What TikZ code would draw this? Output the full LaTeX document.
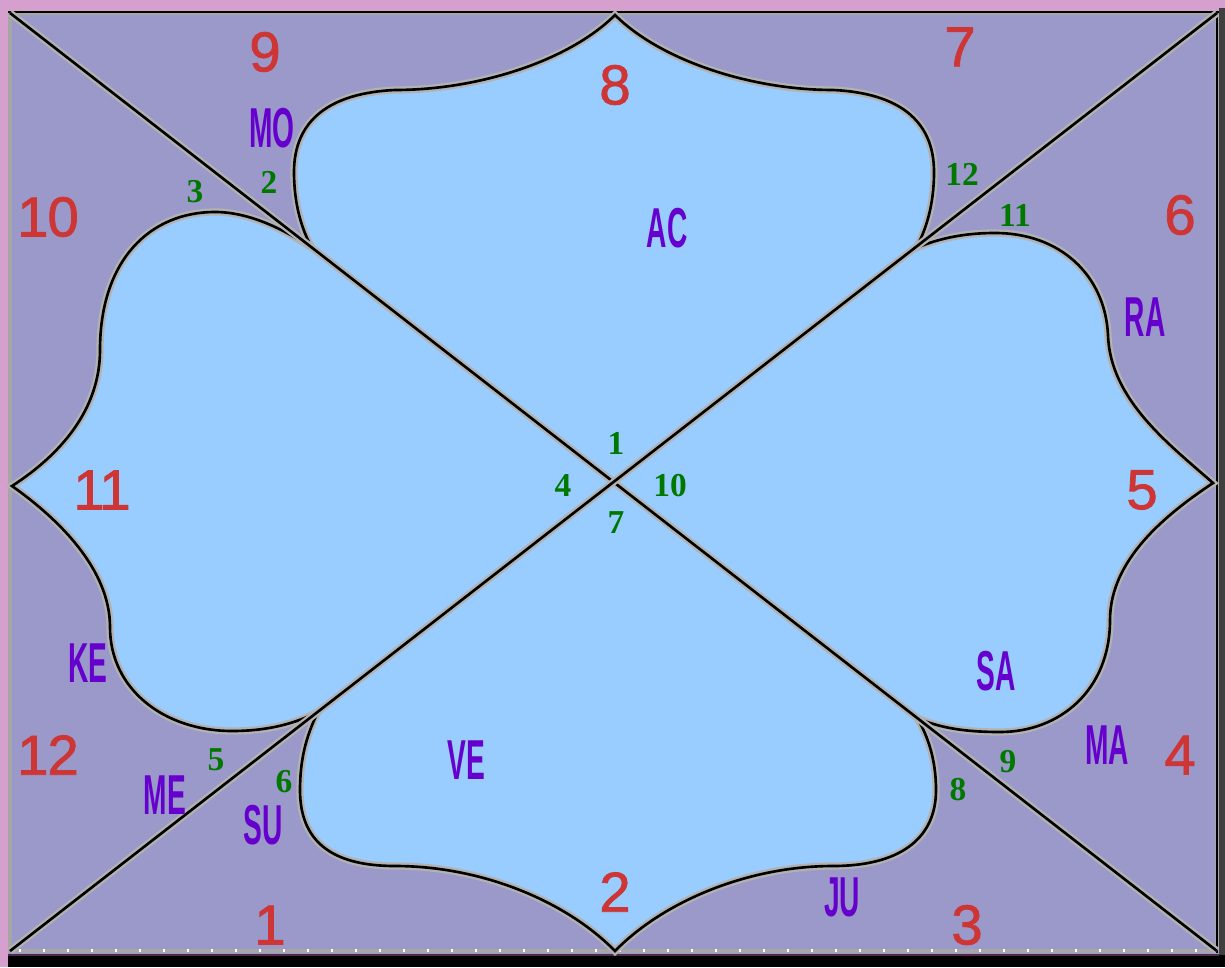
\documentclass[tikz,border=0pt]{standalone}
\usepackage{fontspec}
\usepackage{tikz}
\newfontfamily\housefont[LetterSpace=-2,FakeBold=1.4]{Liberation Sans}
\newfontfamily\planetfont[FakeStretch=0.5]{Liberation Sans}
\newfontfamily\degreefont{Liberation Serif}
\definecolor{pinkedge}{RGB}{214,160,206}
\definecolor{chartbg}{RGB}{154,153,202}
\definecolor{lobeblue}{RGB}{153,204,255}
\definecolor{housered}{RGB}{206,54,54}
\definecolor{planetviolet}{RGB}{102,0,204}
\definecolor{degreegreen}{RGB}{0,120,0}
\definecolor{rimpurple}{RGB}{80,40,80}

\begin{document}
\begin{tikzpicture}[x=0.01cm,y=-0.01cm,
  rim/.style={draw=gray!60,double=black,double distance=0.75pt,line width=0.65pt},
  house/.style={text=housered,inner sep=0pt,font=\housefont\fontsize{16}{16}\selectfont},
  planet/.style={text=planetviolet,inner sep=0pt,font=\planetfont\bfseries\fontsize{16}{16}\selectfont},
  degree/.style={text=degreegreen,inner sep=0pt,font=\degreefont\bfseries\fontsize{9.5}{10}\selectfont}]
\useasboundingbox (0,0) rectangle (1225,967);
% frame of the chart
\fill[pinkedge] (0,0) rectangle (1225,967);
\fill[black] (8,955) rectangle (1225,967);
\fill[black!75] (1219,8) rectangle (1225,955);
\fill[chartbg] (8,11) rectangle (1219,954);
\coordinate (tl) at (10,13); \coordinate (tr) at (1217,13);
\coordinate (bl) at (10,951); \coordinate (br) at (1217,951);
\draw[gray!70,line width=1.2pt] (tl) rectangle (br);
\draw[black,line width=0.5pt] (8,12) -- (1219,12);
\draw[black,line width=0.7pt] (1217,12) -- (1217,953);
\draw[rimpurple,line width=0.8pt] (8,955) -- (1219,955);
\foreach \t in {20,44,...,1210} \draw[white,line width=0.4pt] (\t,949) -- (\t,952);
% the four lobes
\path[fill=lobeblue,rim] (615,15)
  .. controls (660,60) and (750,90) .. (833,90)
  .. controls (898,93) and (934,120) .. (934,172)
  .. controls (934,205) and (926,230) .. (916,248)
  .. controls (940,238) and (965,233) .. (995,233)
  .. controls (1060,233) and (1105,275) .. (1108,335)
  .. controls (1110,400) and (1170,445) .. (1213,483)
  .. controls (1165,515) and (1110,560) .. (1110,620)
  .. controls (1110,690) and (1060,732) .. (1000,732)
  .. controls (965,732) and (940,728) .. (917,718)
  .. controls (928,736) and (936,760) .. (936,790)
  .. controls (936,840) and (898,866) .. (833,866)
  .. controls (750,866) and (665,900) .. (615,951)
  .. controls (565,900) and (480,866) .. (395,866)
  .. controls (330,866) and (300,840) .. (300,790)
  .. controls (300,760) and (306,736) .. (318,712)
  .. controls (290,726) and (262,731) .. (232,731)
  .. controls (165,731) and (110,690) .. (110,627)
  .. controls (110,570) and (60,520) .. (12,486)
  .. controls (60,455) and (100,410) .. (100,350)
  .. controls (100,260) and (150,212) .. (215,212)
  .. controls (250,212) and (285,230) .. (312,248)
  .. controls (302,230) and (294,205) .. (294,172)
  .. controls (294,120) and (330,93) .. (395,90)
  .. controls (480,90) and (570,60) .. cycle;
\draw[rim] (tl) -- (br);
\draw[rim] (tr) -- (bl);
% house numbers
\foreach \n/\x/\y in {1/270/925,2/615/892,3/967/925,4/1180/755,5/1142/490,6/1180/215,
  7/960/47,8/615/85,9/265/52,10/48/217,11/102/490,12/48/755}
  \node[house] (h\n) at (\x,\y) {\n};
% planets
\foreach \p/\x/\y in {MO/272/128,AC/667/228,RA/1145/317,KE/88/663,SA/996/671,
  MA/1107/745,ME/165/795,SU/263/825,VE/466/760,JU/842/897}
  \node[planet] (\p) at (\x,\y) {\p};
% degrees
\foreach \n/\x/\y in {3/195/192,2/269/182,12/962/174,11/1015/215,1/616/443,4/563/486,
  10/670/486,7/616/523,5/216/760,6/284/782,9/1008/762,8/958/790}
  \node[degree] (d\n) at (\x,\y) {\n};
\end{tikzpicture}
\end{document}
